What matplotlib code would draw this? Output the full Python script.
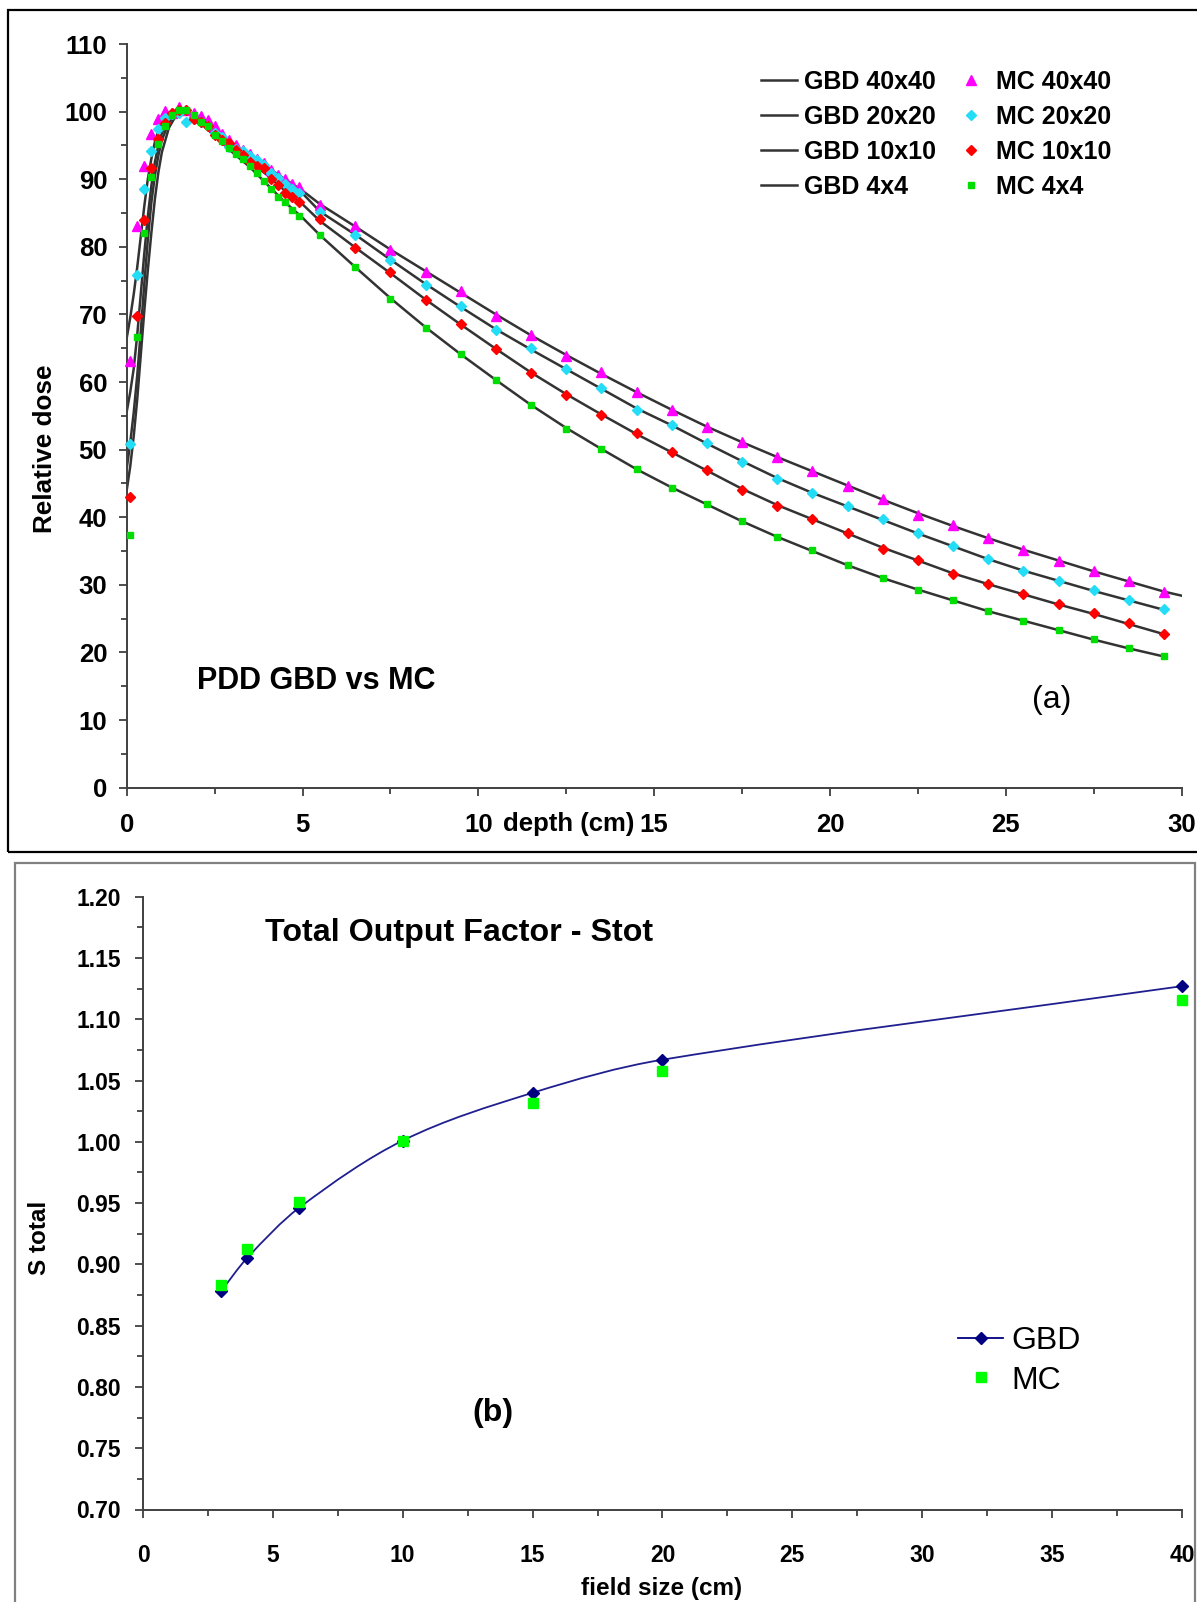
import matplotlib
matplotlib.use("Agg")
import matplotlib.pyplot as plt
from matplotlib.patches import Rectangle, PathPatch
from matplotlib.path import Path
from matplotlib.lines import Line2D
from matplotlib.ticker import MultipleLocator, FormatStrFormatter
import numpy as np

plt.rcParams['font.family'] = ['Liberation Sans', 'DejaVu Sans']

# ---------------- Panel (a): PDD data ----------------
mc_depth = [0.1, 0.3, 0.5, 0.7, 0.9, 1.1, 1.3, 1.5, 1.7, 1.9, 2.1, 2.3, 2.5, 2.7, 2.9,
            3.1, 3.3, 3.5, 3.7, 3.9, 4.1, 4.3, 4.5, 4.7, 4.9,
            5.5, 6.5, 7.5, 8.5, 9.5, 10.5, 11.5, 12.5, 13.5, 14.5, 15.5, 16.5, 17.5,
            18.5, 19.5, 20.5, 21.5, 22.5, 23.5, 24.5, 25.5, 26.5, 27.5, 28.5, 29.5]

mc_40 = [63.1, 83.1, 92.0, 96.7, 98.9, 100.1, 99.8, 100.7, 100.2, 99.8, 99.3, 98.8, 97.8, 96.7, 95.8,
         95.1, 94.3, 93.7, 93.0, 92.4, 91.4, 90.6, 90.0, 89.3, 88.8,
         86.2, 83.1, 79.5, 76.3, 73.4, 69.8, 67.0, 63.9, 61.5, 58.6, 55.8, 53.4, 51.2,
         48.9, 46.9, 44.6, 42.7, 40.4, 38.8, 37.0, 35.1, 33.6, 32.0, 30.6, 29.0]
mc_20 = [50.9, 75.8, 88.5, 94.1, 97.4, 99.0, 99.6, 99.8, 98.5, 98.9, 98.5, 97.8, 96.8, 96.3, 94.7,
         94.4, 94.1, 93.5, 92.9, 92.1, 90.9, 90.2, 89.3, 88.6, 88.0,
         85.1, 81.8, 78.0, 74.3, 71.2, 67.7, 65.0, 61.9, 59.1, 55.8, 53.7, 51.0, 48.2,
         45.6, 43.6, 41.7, 39.7, 37.6, 35.7, 33.8, 32.1, 30.5, 29.2, 27.7, 26.4]
mc_10 = [43.0, 69.8, 83.9, 91.7, 95.9, 98.3, 99.8, 100.3, 100.2, 98.9, 98.4, 97.8, 96.6, 95.8, 95.3,
         94.3, 93.6, 92.6, 92.0, 91.6, 90.0, 89.2, 87.9, 87.3, 86.6,
         84.1, 79.8, 76.3, 72.1, 68.6, 64.9, 61.3, 58.1, 55.1, 52.4, 49.6, 47.0, 44.1,
         41.7, 39.7, 37.7, 35.3, 33.7, 31.6, 30.1, 28.6, 27.2, 25.8, 24.3, 22.7]
mc_4 = [37.4, 66.7, 82.0, 90.4, 95.2, 97.8, 99.5, 100.2, 100.2, 99.5, 98.5, 97.9, 96.6, 95.6, 94.6,
        93.8, 93.0, 92.0, 90.9, 89.8, 88.6, 87.4, 86.6, 85.4, 84.6,
        81.8, 77.0, 72.3, 68.0, 64.1, 60.3, 56.6, 53.1, 50.1, 47.1, 44.4, 41.9, 39.4,
        37.1, 35.1, 32.9, 31.0, 29.3, 27.8, 26.1, 24.7, 23.3, 22.0, 20.6, 19.5]

gbd_depth = [0.0, 0.1, 0.2, 0.3, 0.4, 0.5, 0.6, 0.7, 0.8, 0.9, 1.0,
             1.2, 1.4, 1.6, 1.8, 2.0, 2.5, 3.0, 3.5, 4.0, 4.5, 5.0,
             5.5, 6.5, 7.5, 8.5, 9.5, 10.5, 11.5, 12.5, 13.5, 14.5, 15.5, 16.5, 17.5,
             18.5, 19.5, 20.5, 21.5, 22.5, 23.5, 24.5, 25.5, 26.5, 27.5, 28.5, 29.5]
gbd_depth_40 = gbd_depth + [30.0]

gbd_40 = [66.5, 69.5, 73.0, 77.0, 81.5, 86.0, 90.0, 93.0, 95.5, 97.2, 98.4,
          99.6, 100.0, 100.0, 99.5, 98.8, 96.9, 95.3, 93.6, 91.8, 90.0, 88.3,
          86.3, 83.0, 79.6, 76.4, 73.2, 70.0, 66.9, 64.0, 61.2, 58.5, 55.9, 53.4, 51.1,
          48.9, 46.8, 44.7, 42.6, 40.6, 38.7, 36.9, 35.2, 33.6, 32.0, 30.5, 29.0, 28.4]
gbd_20 = [55.6, 58.5, 62.0, 67.0, 73.0, 79.0, 84.5, 89.0, 92.5, 95.0, 96.8,
          98.8, 99.8, 100.0, 99.6, 98.9, 96.9, 95.0, 93.4, 91.6, 89.7, 87.9,
          85.2, 81.8, 78.1, 74.5, 71.1, 67.8, 64.8, 61.9, 59.0, 56.1, 53.6, 50.9, 48.3,
          45.8, 43.6, 41.6, 39.6, 37.6, 35.7, 33.8, 32.1, 30.6, 29.1, 27.7, 26.3]
gbd_10 = [47.2, 51.0, 55.5, 61.0, 67.5, 74.5, 81.0, 86.5, 90.5, 93.5, 95.8,
          98.4, 99.6, 100.0, 99.6, 98.9, 96.7, 94.6, 92.6, 90.6, 88.3, 86.3,
          83.8, 79.9, 76.1, 72.2, 68.5, 64.9, 61.4, 58.2, 55.2, 52.3, 49.6, 46.9, 44.2,
          41.8, 39.7, 37.6, 35.5, 33.6, 31.7, 30.1, 28.6, 27.1, 25.7, 24.2, 22.7]
gbd_4 = [44.0, 47.5, 52.0, 57.5, 64.0, 70.5, 76.5, 82.0, 87.0, 91.0, 94.0,
         97.6, 99.4, 100.0, 99.6, 98.8, 96.4, 94.0, 91.8, 89.2, 86.6, 84.3,
         81.7, 77.0, 72.4, 68.1, 64.1, 60.3, 56.6, 53.2, 50.1, 47.1, 44.4, 41.9, 39.4,
         37.1, 35.0, 32.9, 31.0, 29.3, 27.7, 26.1, 24.7, 23.3, 21.9, 20.6, 19.4]

pdd_labels_gbd = ["GBD 40x40", "GBD 20x20", "GBD 10x10", "GBD 4x4"]
pdd_labels_mc = ["MC 40x40", "MC 20x20", "MC 10x10", "MC 4x4"]

# ---------------- Panel (b): output factor ----------------
field_size = [3, 4, 6, 10, 15, 20, 40]
stot_gbd = [0.878, 0.905, 0.946, 1.001, 1.040, 1.067, 1.127]
stot_mc = [0.883, 0.9125, 0.951, 1.001, 1.032, 1.058, 1.116]

W, H = 1197, 1602
fig = plt.figure(figsize=(W / 100, H / 100), dpi=100)

def fx(px):
    return px / W

def fy(py):
    return 1 - py / H

# frames
fig.add_artist(Rectangle((fx(7.5), fy(851.5)), 1.02, fy(10.5) - fy(851.5),
                         transform=fig.transFigure, fill=False, ec='black', lw=1.6))
fig.add_artist(Rectangle((fx(15), -0.02), fx(1195) - fx(15), fy(862.5) + 0.02,
                         transform=fig.transFigure, fill=False, ec='#808080', lw=1.6))

spine_col = '#404040'

# ---------- top axes ----------
ax1 = fig.add_axes([fx(126.7), fy(787.7), fx(1181.7) - fx(126.7), fy(44.0) - fy(787.7)])
ax1.set_xlim(0, 30)
ax1.set_ylim(0, 110)
for s in ['top', 'right']:
    ax1.spines[s].set_visible(False)
for s in ['left', 'bottom']:
    ax1.spines[s].set_color(spine_col)
    ax1.spines[s].set_linewidth(1.4)
ax1.xaxis.set_major_locator(MultipleLocator(5))
ax1.xaxis.set_minor_locator(MultipleLocator(2.5))
ax1.yaxis.set_major_locator(MultipleLocator(10))
ax1.yaxis.set_minor_locator(MultipleLocator(5))
ax1.tick_params(which='major', length=6, width=1.3, color=spine_col, labelsize=18.5)
ax1.tick_params(which='minor', length=4, width=1.3, color=spine_col)
ax1.tick_params(axis='x', which='major', pad=12)
ax1.tick_params(axis='y', which='major', pad=8)
for lab in ax1.get_xticklabels() + ax1.get_yticklabels():
    lab.set_fontweight('bold')

line_col = '#333333'
gbd_series = [(gbd_depth_40, gbd_40), (gbd_depth, gbd_20), (gbd_depth, gbd_10), (gbd_depth, gbd_4)]
handles_gbd = []
for (dx, dy), lab in zip(gbd_series, pdd_labels_gbd):
    h, = ax1.plot(dx, dy, color=line_col, lw=1.8, label=lab, zorder=2)
    handles_gbd.append(h)

mc_styles = [
    (mc_40, '^', '#FF00FF', 7.5),
    (mc_20, 'D', '#22DDF5', 5.6),
    (mc_10, 'D', '#FF0000', 5.0),
    (mc_4, 's', '#00DD00', 4.2),
]
handles_mc = []
for (vals, mk, col, ms), lab in zip(mc_styles, pdd_labels_mc):
    h, = ax1.plot(mc_depth, vals, linestyle='none', marker=mk, color=col, mec=col,
                  ms=ms, label=lab, zorder=3, clip_on=False)
    handles_mc.append(h)

ax1.legend(handles_gbd + handles_mc, pdd_labels_gbd + pdd_labels_mc, ncol=2,
           loc='upper left', bbox_to_anchor=(fx(761), fy(70)),
           bbox_transform=fig.transFigure, frameon=False,
           prop={'size': 18, 'weight': 'bold'}, handlelength=1.45,
           handletextpad=0.25, columnspacing=0.7, labelspacing=0.44,
           borderpad=0, borderaxespad=0, numpoints=1)

fig.text(fx(569), fy(824), "depth (cm)", ha='center', va='center', fontsize=18.5,
         fontweight='bold')
fig.text(fx(45), fy(449), "Relative dose", ha='center', va='center', rotation=90,
         fontsize=18.8, fontweight='bold')
fig.text(fx(197), fy(681), "PDD GBD vs MC", ha='left', va='center', fontsize=22,
         fontweight='bold')
fig.text(fx(1052), fy(700), "(a)", ha='center', va='center', fontsize=23)

# ---------- bottom axes ----------
ax2 = fig.add_axes([fx(143), fy(1509.5), fx(1182) - fx(143), fy(896.7) - fy(1509.5)])
ax2.set_xlim(0, 40)
ax2.set_ylim(0.70, 1.20)
for s in ['top', 'right']:
    ax2.spines[s].set_visible(False)
for s in ['left', 'bottom']:
    ax2.spines[s].set_color(spine_col)
    ax2.spines[s].set_linewidth(1.4)
ax2.xaxis.set_major_locator(MultipleLocator(5))
ax2.xaxis.set_minor_locator(MultipleLocator(2.5))
ax2.yaxis.set_major_locator(MultipleLocator(0.05))
ax2.yaxis.set_minor_locator(MultipleLocator(0.025))
ax2.yaxis.set_major_formatter(FormatStrFormatter('%.2f'))
ax2.tick_params(which='major', length=6, width=1.3, color=spine_col, labelsize=16.5)
ax2.tick_params(which='minor', length=4, width=1.3, color=spine_col)
ax2.tick_params(axis='x', which='major', pad=19)
ax2.tick_params(axis='y', which='major', pad=10)
for lab in ax2.get_xticklabels() + ax2.get_yticklabels():
    lab.set_fontweight('bold')

# smooth (Excel-style) line through the GBD points: cubic Hermite segments as Bezier
px = np.array(field_size, dtype=float)
py = np.array(stot_gbd, dtype=float)
n = len(px)
m = np.empty(n)
m[0] = (py[1] - py[0]) / (px[1] - px[0])
m[-1] = (py[-1] - py[-2]) / (px[-1] - px[-2])
for i in range(1, n - 1):
    m[i] = (py[i + 1] - py[i - 1]) / (px[i + 1] - px[i - 1])
verts = [(px[0], py[0])]
codes = [Path.MOVETO]
for i in range(n - 1):
    d = (px[i + 1] - px[i]) / 3.0
    verts += [(px[i] + d, py[i] + d * m[i]),
              (px[i + 1] - d, py[i + 1] - d * m[i + 1]),
              (px[i + 1], py[i + 1])]
    codes += [Path.CURVE4] * 3
ax2.add_patch(PathPatch(Path(verts, codes), fill=False, ec='#1F1F8F', lw=1.3, zorder=2))
ax2.plot(field_size, stot_gbd, linestyle='none', marker='D', color='#000080', ms=6,
         zorder=3, clip_on=False)
ax2.plot(field_size, stot_mc, linestyle='none', marker='s', color='#00FF00', mec='#00FF00',
         ms=7, zorder=4, clip_on=False)

h_gbd = Line2D([], [], color='#000080', lw=1.3, marker='D', ms=6)
h_mc = Line2D([], [], linestyle='none', marker='s', color='#00FF00', ms=7)
ax2.legend([h_gbd, h_mc], ["GBD", "MC"], loc='upper left',
           bbox_to_anchor=(fx(958), fy(1326)), bbox_transform=fig.transFigure,
           frameon=False, prop={'size': 23}, handlelength=1.42, handletextpad=0.25,
           labelspacing=0.3, borderpad=0, borderaxespad=0, numpoints=1)

fig.text(fx(265), fy(932.5), "Total Output Factor - Stot", ha='left', va='center',
         fontsize=23.2, fontweight='bold')
fig.text(fx(493), fy(1412.5), "(b)", ha='center', va='center', fontsize=23,
         fontweight='bold')
fig.text(fx(39), fy(1238), "S total", ha='center', va='center', rotation=90,
         fontsize=17.5, fontweight='bold')
fig.text(fx(662), fy(1588), "field size (cm)", ha='center', va='center', fontsize=17.5,
         fontweight='bold')

fig.savefig("out.png", dpi=100)
